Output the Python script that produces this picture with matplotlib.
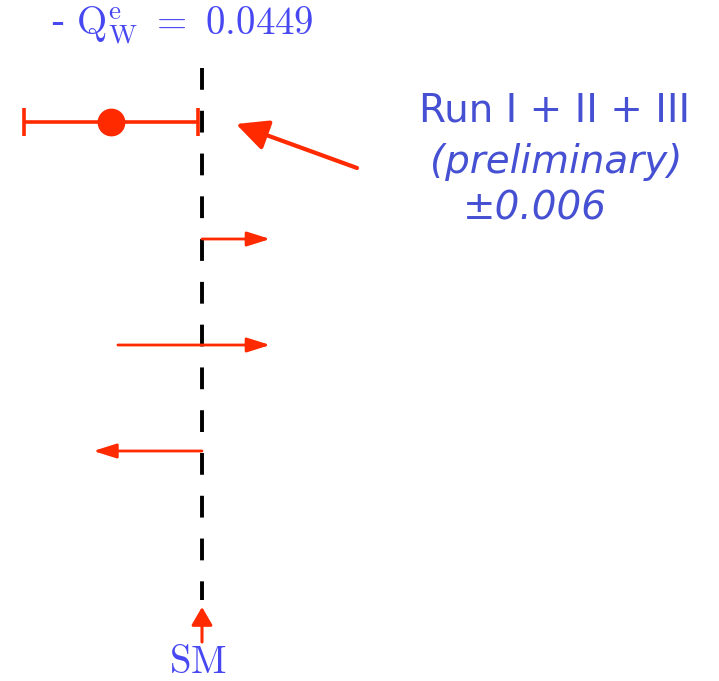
import matplotlib.pyplot as plt
from matplotlib.patches import FancyArrowPatch

# Q_W^e values
sm_value = 0.0449
run_value = 0.0386
run_err = 0.006

# limit arrows: (start, end)
limit_start = [0.0449, 0.0391, 0.0449]
limit_end = [0.0496, 0.0496, 0.0374]

title_text = r"- $\mathrm{Q}_{\mathrm{W}}^{\mathrm{e}}\ =\ 0.0449$"
note_lines = ["Run I + II + III", "(preliminary)", "\u00b10.006"]

red = "#ff2a00"
title_blue = "#4848f2"
note_blue = "#4650d2"

plt.rcParams["mathtext.fontset"] = "cm"

W, H = 719, 681
fig = plt.figure(figsize=(W / 100, H / 100), dpi=100)
ax = fig.add_axes([0, 0, 1, 1])
px = 0.006 / 87  # value per pixel
ax.set_xlim(sm_value - 202 * px, sm_value + 517 * px)
ax.set_ylim(H, 0)
ax.axis("off")

# SM dashed line
ax.plot([sm_value, sm_value], [68, 600], color="black", lw=2.8,
        linestyle=(0, (5.6, 5.4)), zorder=1)

# measurement
ax.errorbar(run_value, 122, xerr=run_err, fmt="o", ms=19, color=red,
            elinewidth=2.6, capsize=10, capthick=2.6, zorder=3)

# limits
rows_y = [239, 345, 451]
for x0, x1, y in zip(limit_start, limit_end, rows_y):
    ax.annotate("", xy=(x1, y), xytext=(x0, y),
                arrowprops=dict(arrowstyle="-|>,head_length=0.7,head_width=0.22",
                                mutation_scale=20, color=red, lw=2,
                                shrinkA=0, shrinkB=0), zorder=2)

# SM arrow
ax.annotate("", xy=(sm_value, 607), xytext=(sm_value, 642),
            arrowprops=dict(arrowstyle="-|>,head_length=0.55,head_width=0.32",
                            mutation_scale=20, color=red, lw=2.2,
                            shrinkA=0, shrinkB=0))

# pointer arrow to the measurement
fig.patches.append(FancyArrowPatch(
    (357 / W, 1 - 168 / H), (236 / W, 1 - 124 / H), transform=fig.transFigure,
    arrowstyle="-|>,head_length=0.97,head_width=0.47", mutation_scale=20,
    color=red, lw=3, shrinkA=0, shrinkB=0))

fig.text(50 / W, 1 - 35 / H, title_text, color=title_blue, fontsize=28,
         ha="left", va="baseline")
fig.text(198 / W, 1 - 673 / H, r"$\mathrm{SM}$", color=title_blue, fontsize=28,
         ha="center", va="baseline")

fig.text(555 / W, 1 - 122 / H, note_lines[0], color=note_blue, fontsize=28,
         ha="center", va="baseline")
fig.text(556 / W, 1 - 173 / H, note_lines[1], color=note_blue, fontsize=28,
         ha="center", va="baseline", style="italic")
fig.text(535 / W, 1 - 219 / H, note_lines[2], color=note_blue, fontsize=28,
         ha="center", va="baseline", style="italic")

fig.savefig("out.png", dpi=100)
